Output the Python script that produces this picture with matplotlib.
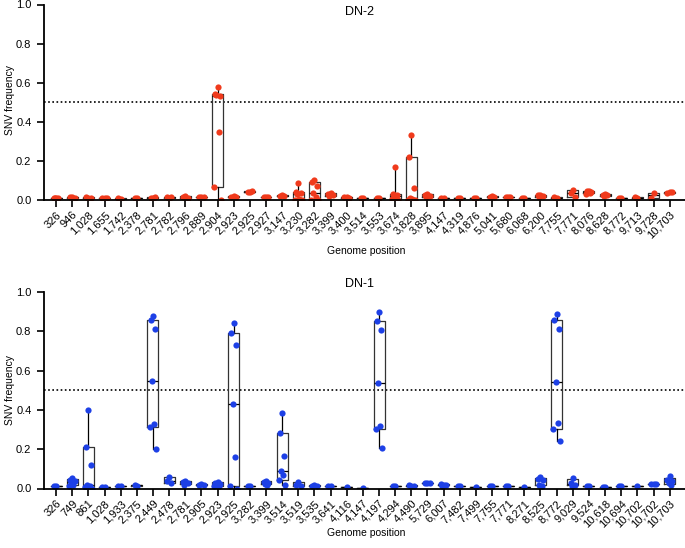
import matplotlib
matplotlib.use("Agg")
import matplotlib.pyplot as plt
import numpy as np

plt.rcParams['font.family'] = ['Liberation Sans', 'DejaVu Sans']

# ---- DN-2 (top) ----
dn2_labels = ["326", "946", "1,028", "1,655", "1,742", "2,378", "2,781", "2,782", "2,796", "2,889",
              "2,904", "2,923", "2,925", "2,927", "3,147", "3,230", "3,282", "3,399", "3,400", "3,514",
              "3,553", "3,674", "3,828", "3,895", "4,147", "4,319", "4,876", "5,041", "5,680", "6,068",
              "6,200", "7,755", "7,771", "8,076", "8,628", "8,772", "9,713", "9,728", "10,703"]
dn2_values = [
    [0.010, 0.012, 0.008, 0.010],
    [0.013, 0.014, 0.012],
    [0.012, 0.013, 0.010],
    [0.010, 0.010, 0.009],
    [0.007, 0.008],
    [0.008, 0.009],
    [0.010, 0.012, 0.015],
    [0.012, 0.013, 0.013],
    [0.018, 0.013, 0.012],
    [0.013, 0.013, 0.014],
    [0.58, 0.54, 0.53, 0.535, 0.35, 0.068, 0.0],
    [0.020, 0.015, 0.013],
    [0.040, 0.042, 0.045],
    [0.014, 0.014, 0.013],
    [0.025, 0.020, 0.018],
    [0.088, 0.042, 0.035, 0.030, 0.005, 0.002, 0.0],
    [0.100, 0.093, 0.070, 0.037, 0.015, 0.002, 0.0],
    [0.035, 0.030, 0.025, 0.020],
    [0.015, 0.013, 0.012],
    [0.008, 0.008],
    [0.012, 0.012],
    [0.17, 0.030, 0.025, 0.020, 0.010, 0.005, 0.0],
    [0.33, 0.22, 0.060, 0.010, 0.005, 0.002, 0.0],
    [0.030, 0.025, 0.020, 0.015],
    [0.010, 0.010],
    [0.008, 0.009],
    [0.010, 0.010],
    [0.018, 0.015, 0.013],
    [0.014, 0.014, 0.015],
    [0.010, 0.012],
    [0.028, 0.025, 0.020, 0.015],
    [0.012, 0.013],
    [0.050, 0.035, 0.017],
    [0.048, 0.045, 0.040, 0.042, 0.035, 0.030],
    [0.030, 0.028, 0.025, 0.020],
    [0.010, 0.008],
    [0.012, 0.013],
    [0.037, 0.012],
    [0.042, 0.038, 0.040],
]

# ---- DN-1 (bottom) ----
dn1_labels = ["326", "749", "861", "1,028", "1,933", "2,375", "2,449", "2,478", "2,781", "2,905",
              "2,923", "2,925", "3,282", "3,399", "3,514", "3,519", "3,535", "3,641", "4,116", "4,147",
              "4,197", "4,294", "4,490", "5,729", "6,007", "7,482", "7,499", "7,755", "7,771", "8,271",
              "8,525", "8,772", "9,029", "9,524", "10,618", "10,694", "10,702", "10,702", "10,703"]
dn1_values = [
    [0.012, 0.012],
    [0.055, 0.045, 0.040, 0.030, 0.020, 0.015],
    [0.40, 0.213, 0.122, 0.020, 0.012, 0.008, 0.0],
    [0.010, 0.010],
    [0.012, 0.015],
    [0.015, 0.018],
    [0.876, 0.86, 0.81, 0.545, 0.33, 0.315, 0.20],
    [0.060, 0.040, 0.030],
    [0.040, 0.035, 0.030, 0.020],
    [0.025, 0.020, 0.018],
    [0.035, 0.030, 0.025, 0.020, 0.015, 0.012],
    [0.84, 0.79, 0.73, 0.43, 0.16, 0.015, 0.0],
    [0.012, 0.012],
    [0.040, 0.035, 0.030, 0.025, 0.020],
    [0.385, 0.28, 0.165, 0.090, 0.070, 0.045, 0.017],
    [0.035, 0.020, 0.015],
    [0.020, 0.015, 0.012],
    [0.012, 0.012],
    [0.008],
    [0.005],
    [0.897, 0.851, 0.809, 0.536, 0.318, 0.301, 0.208],
    [0.012, 0.012],
    [0.015, 0.018, 0.013],
    [0.030, 0.030, 0.028],
    [0.020, 0.022, 0.018, 0.015],
    [0.015, 0.015],
    [0.008],
    [0.012, 0.012],
    [0.012, 0.012],
    [0.008],
    [0.060, 0.050, 0.045, 0.020, 0.012],
    [0.89, 0.855, 0.81, 0.54, 0.335, 0.305, 0.24],
    [0.055, 0.030, 0.020, 0.015],
    [0.012, 0.012],
    [0.010, 0.010],
    [0.012, 0.012],
    [0.015],
    [0.025, 0.025, 0.022],
    [0.065, 0.045, 0.040, 0.030, 0.020],
]

RED = "#F03A1C"
BLUE = "#1D40E6"
jitter_pattern = [0.0, -0.14, 0.14, -0.07, 0.07, -0.2, 0.2]

fig = plt.figure(figsize=(6.85, 5.48), dpi=100)
ax_top = fig.add_axes([44 / 685, 1 - 200 / 548, 641 / 685, 195.5 / 548])
ax_bot = fig.add_axes([44 / 685, 1 - 488.5 / 548, 641 / 685, 196.5 / 548])


def box_stats(vals):
    v = np.asarray(vals, dtype=float)
    q1, med, q3 = np.percentile(v, [25, 50, 75], method="weibull")
    return dict(med=med, q1=q1, q3=q3, whislo=v.min(), whishi=v.max(), fliers=[])


def draw(ax, labels, values, color, title, title_y, xlabel_y, ylabel_y):
    n = len(labels)
    pos = np.arange(n)
    stats = [box_stats(v) for v in values]
    ax.bxp(stats, positions=pos, widths=0.68, showfliers=False, manage_ticks=False,
           boxprops=dict(color="#333333", linewidth=0.9),
           whiskerprops=dict(color="black", linewidth=0.9),
           capprops=dict(linewidth=0),
           medianprops=dict(color="black", linewidth=0.9))
    for i, vals in enumerate(values):
        xs = [i + jitter_pattern[k % len(jitter_pattern)] for k in range(len(vals))]
        ax.scatter(xs, vals, s=20, color=color, zorder=3, linewidths=0)
    ax.axhline(0.5, color="black", linestyle=(0, (1, 1.5)), linewidth=1.2, zorder=1)
    ax.set_xlim(-0.75, n - 0.05)
    ax.set_ylim(0, 1.0)
    ax.set_yticks([0, 0.2, 0.4, 0.6, 0.8, 1.0])
    ax.set_yticklabels(["0.0", "0.2", "0.4", "0.6", "0.8", "1.0"])
    ax.set_xticks(pos)
    ax.set_xticklabels(labels, rotation=45, ha="right", rotation_mode="anchor")
    ax.tick_params(axis="x", length=5, width=1.2, labelsize=8, pad=2)
    ax.tick_params(axis="y", length=5, width=1.2, labelsize=8, pad=4)
    for s in ["top", "right"]:
        ax.spines[s].set_visible(False)
    for s in ["left", "bottom"]:
        ax.spines[s].set_linewidth(1.3)
    ax.spines["bottom"].set_zorder(4)
    fig.text(10 / 685, ylabel_y, "SNV frequency", fontsize=7.5, ha="center", va="center",
             rotation=90)
    fig.text(366 / 685, xlabel_y, "Genome position", fontsize=7.5, ha="center", va="center")
    fig.text(360 / 685, title_y, title, fontsize=9, ha="center", va="center")


draw(ax_top, dn2_labels, dn2_values, RED, "DN-2", 1 - 12 / 548, 1 - 251 / 548, 1 - 100 / 548)
draw(ax_bot, dn1_labels, dn1_values, BLUE, "DN-1", 1 - 284 / 548, 1 - 533 / 548, 1 - 390 / 548)

fig.savefig("out.png", dpi=100)
